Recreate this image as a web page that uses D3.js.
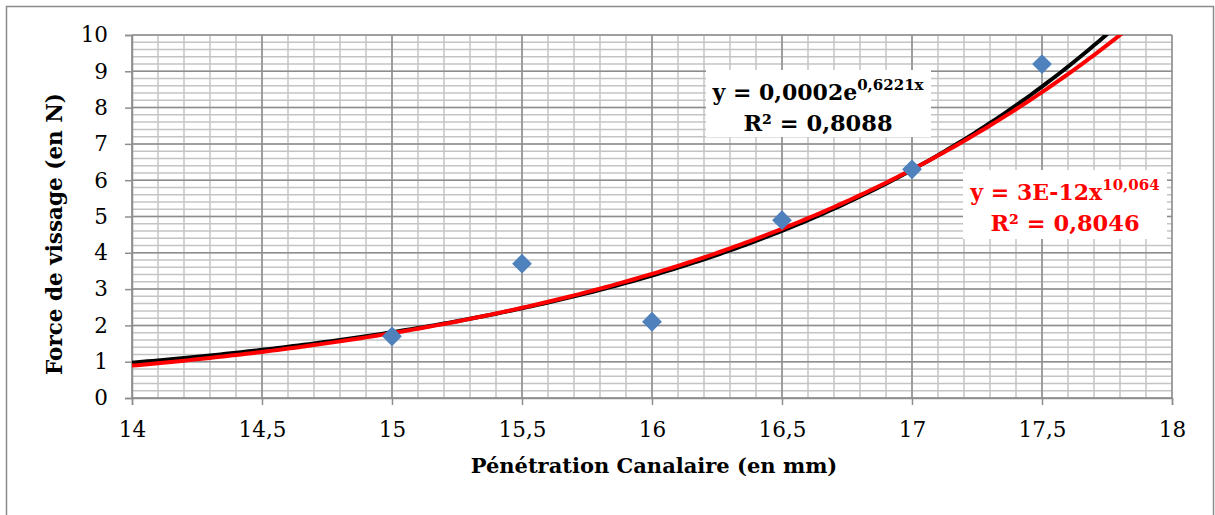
<!DOCTYPE html>
<html>
<head>
<meta charset="utf-8">
<script src="https://cdn.jsdelivr.net/npm/d3@7"></script>
<style>
  body { margin: 0; background: #fff; }
  svg { display: block; font-family: "DejaVu Serif", serif; }
</style>
</head>
<body>
<svg id="chart"></svg>
<script>
// measured points
const penetration = [15, 15.5, 16, 16.5, 17, 17.5];
const force = [1.7, 3.7, 2.1, 4.9, 6.3, 9.2];

const xTicks = [14, 14.5, 15, 15.5, 16, 16.5, 17, 17.5, 18];
const yTicks = [0, 1, 2, 3, 4, 5, 6, 7, 8, 9, 10];

const expLabel = ["y = 0,0002e", "0,6221x", "R\u00b2 = 0,8088"];
const powLabel = ["y = 3E-12x", "10,064", "R\u00b2 = 0,8046"];

const width = 1215;
const height = 515;
const margin = { top: 35, right: 43, bottom: 117, left: 132 };

const xScale = d3.scaleLinear()
    .domain([14, 18])
    .range([margin.left, width - margin.right]);

const yScale = d3.scaleLinear()
    .domain([0, 10])
    .range([height - margin.bottom, margin.top]);

const svg = d3.select("#chart")
    .attr("width", width)
    .attr("height", height);

// chart border
svg.append("rect")
    .attr("x", 6.5).attr("y", 6.5)
    .attr("width", 1207).attr("height", 530)
    .attr("fill", "none")
    .attr("stroke", "#8c8c8c")
    .attr("stroke-width", 1.5);

// least squares fits (same as the spreadsheet trendlines)
function linFit(xs, ys) {
  const mx = d3.mean(xs), my = d3.mean(ys);
  let sxy = 0, sxx = 0;
  xs.forEach((x, i) => { sxy += (x - mx) * (ys[i] - my); sxx += (x - mx) * (x - mx); });
  const b = sxy / sxx;
  return { a: my - b * mx, b: b };
}
const lnF = force.map(Math.log);
const expFit = linFit(penetration, lnF);
const powFit = linFit(penetration.map(Math.log), lnF);
const expFn = x => Math.exp(expFit.a + expFit.b * x);
const powFn = x => Math.exp(powFit.a + powFit.b * Math.log(x));

// grid
const minorX = d3.range(14, 18.0001, 0.1);
const minorY = d3.range(0, 10.0001, 0.2);
const grid = svg.append("g");

grid.selectAll(".minor-x").data(minorX).enter().append("line")
    .attr("x1", d => xScale(d)).attr("x2", d => xScale(d))
    .attr("y1", yScale(0)).attr("y2", yScale(10))
    .attr("stroke", "#c4c4c4").attr("stroke-width", 1.5);

grid.selectAll(".minor-y").data(minorY).enter().append("line")
    .attr("x1", xScale(14)).attr("x2", xScale(18))
    .attr("y1", d => yScale(d)).attr("y2", d => yScale(d))
    .attr("stroke", "#c4c4c4").attr("stroke-width", 1.5);

grid.selectAll(".major-x").data(xTicks).enter().append("line")
    .attr("x1", d => xScale(d)).attr("x2", d => xScale(d))
    .attr("y1", yScale(0)).attr("y2", yScale(10))
    .attr("stroke", "#8e8e8e").attr("stroke-width", 1.5);

grid.selectAll(".major-y").data(yTicks).enter().append("line")
    .attr("x1", xScale(14)).attr("x2", xScale(18))
    .attr("y1", d => yScale(d)).attr("y2", d => yScale(d))
    .attr("stroke", "#8e8e8e").attr("stroke-width", 1.5);

// axes
const fmt = d => String(d).replace(".", ",");

const xAxis = svg.append("g")
    .attr("transform", `translate(0, ${yScale(0)})`)
    .call(d3.axisBottom(xScale).tickValues(xTicks).tickFormat(fmt).tickSize(7).tickPadding(17));

const yAxis = svg.append("g")
    .attr("transform", `translate(${xScale(14)}, 0)`)
    .call(d3.axisLeft(yScale).tickValues(yTicks).tickFormat(fmt).tickSize(7).tickPadding(17));

[xAxis, yAxis].forEach(ax => {
  ax.select(".domain").attr("stroke", "#8e8e8e").attr("stroke-width", 1.5);
  ax.selectAll(".tick line").attr("stroke", "#8e8e8e").attr("stroke-width", 1.5);
  ax.selectAll(".tick text")
      .attr("fill", "#000")
      .style("font-family", "DejaVu Serif")
      .style("font-size", "21.5px");
});

// trendlines
svg.append("clipPath").attr("id", "plot-clip")
  .append("rect")
    .attr("x", xScale(14)).attr("y", yScale(10))
    .attr("width", xScale(18) - xScale(14))
    .attr("height", yScale(0) - yScale(10));

const xs = d3.range(14, 18.0001, 0.02);
const line = fn => d3.line()
    .x(d => xScale(d))
    .y(d => yScale(fn(d)));

svg.append("path")
    .datum(xs)
    .attr("clip-path", "url(#plot-clip)")
    .attr("fill", "none")
    .attr("stroke", "#000")
    .attr("stroke-width", 4)
    .attr("d", line(expFn));

svg.append("path")
    .datum(xs)
    .attr("clip-path", "url(#plot-clip)")
    .attr("fill", "none")
    .attr("stroke", "#ff0000")
    .attr("stroke-width", 4)
    .attr("d", line(powFn));

// data points
svg.selectAll(".pt")
    .data(penetration.map((x, i) => ({ x: x, y: force[i] })))
    .enter().append("path")
    .attr("class", "pt")
    .attr("transform", d => `translate(${xScale(d.x)}, ${yScale(d.y)})`)
    .attr("d", d3.symbol(d3.symbolDiamond2, 250))
    .attr("fill", "#4f81bd");

// equation labels
function eqLabel(lines, box, cx, y1, y2, color) {
  svg.append("rect")
      .attr("x", box[0]).attr("y", box[1])
      .attr("width", box[2]).attr("height", box[3])
      .attr("fill", "#fff");
  const t = svg.append("text")
      .attr("x", cx).attr("y", y1)
      .attr("text-anchor", "middle")
      .attr("fill", color)
      .style("font-weight", "bold")
      .style("font-size", "22px");
  t.append("tspan").text(lines[0]);
  t.append("tspan").attr("dy", -10).style("font-size", "15px").text(lines[1]);
  svg.append("text")
      .attr("x", cx).attr("y", y2)
      .attr("text-anchor", "middle")
      .attr("fill", color)
      .style("font-weight", "bold")
      .style("font-size", "22.5px")
      .text(lines[2]);
}
eqLabel(expLabel, [706, 70, 225, 67], 818, 100, 131, "#000");
eqLabel(powLabel, [963, 170, 204, 69], 1065, 200, 231, "#ff0000");

// axis titles
svg.append("text")
    .attr("x", 654)
    .attr("y", 473)
    .attr("text-anchor", "middle")
    .style("font-weight", "bold")
    .style("font-size", "21px")
    .text("Pénétration Canalaire (en mm)");

svg.append("text")
    .attr("transform", "translate(62, 234) rotate(-90)")
    .attr("text-anchor", "middle")
    .style("font-weight", "bold")
    .style("font-size", "21.5px")
    .text("Force de vissage (en N)");
</script>
</body>
</html>
